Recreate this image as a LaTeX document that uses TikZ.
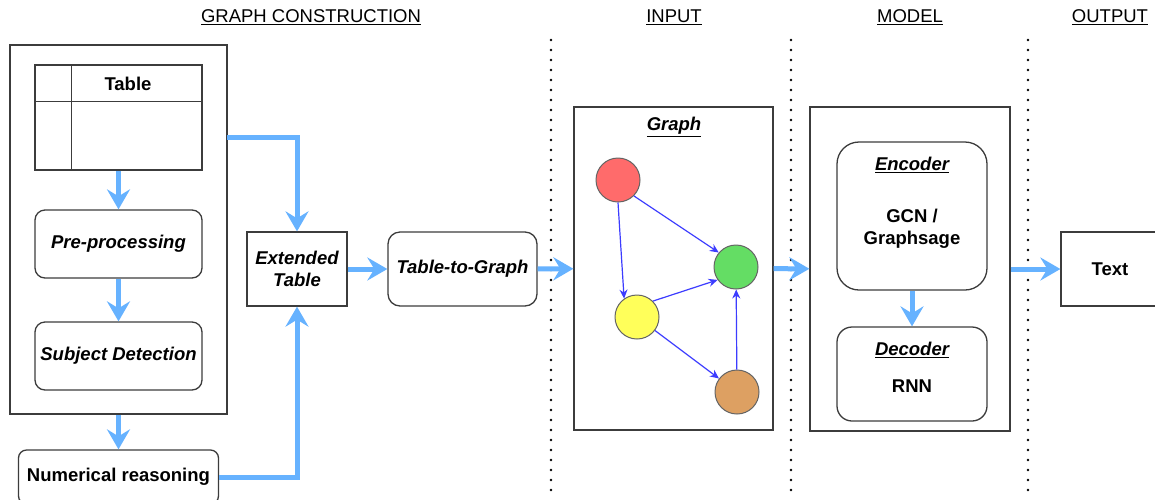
\documentclass[tikz,border=0pt]{standalone}
\usepackage{fontspec}
\setmainfont{Liberation Sans}
\usetikzlibrary{arrows.meta,calc}

\definecolor{flowblue}{RGB}{102,178,255}
\definecolor{linkblue}{RGB}{60,60,255}
\definecolor{boxgray}{RGB}{60,60,60}
\definecolor{vtxgray}{RGB}{100,100,100}
\definecolor{vred}{RGB}{255,107,107}
\definecolor{vgreen}{RGB}{100,221,100}
\definecolor{vyellow}{RGB}{255,255,90}
\definecolor{vbrown}{RGB}{221,160,98}

\newcommand\lblsize{\fontsize{18.5}{22}\selectfont}

\begin{document}
\begin{tikzpicture}[x=1pt,y=-1pt,font=\lblsize,
	blk/.style={draw=boxgray,line width=1.3pt,fill=white,inner sep=0pt,align=center},
	rblk/.style={blk,rounded corners=#1},rblk/.default=10pt,
	bfit/.style={font=\lblsize\bfseries\itshape,align=center},
	bfup/.style={font=\lblsize\bfseries,align=center},
	flow/.style={draw=flowblue,line width=5pt,-{Stealth[length=20pt,width=23pt,inset=7pt]}},
	vtx/.style={circle,draw=vtxgray,line width=1pt,minimum size=44pt,inner sep=0pt},
	link/.style={draw=linkblue,line width=1.2pt,-{Stealth[length=9pt,width=8pt]}},
	divider/.style={line width=2.8pt,line cap=round,dash pattern=on 0pt off 10pt}]
	
	\useasboundingbox[fill=white] (0,0) rectangle (1155,499);
	
	% column titles and separators
	\node (hGC) at (311,17) {\underline{GRAPH CONSTRUCTION}};
	\node (hIn) at (674,17) {\underline{INPUT}};
	\node (hMod) at (910,17) {\underline{MODEL}};
	\node (hOut) at (1110,17) {\underline{OUTPUT}};
	\draw[divider] (551,40) -- (551,499);
	\draw[divider] (791,40) -- (791,499);
	\draw[divider] (1028,40) -- (1028,499);
	
	% graph construction
	\node[blk,minimum width=217pt,minimum height=369pt] (GC) at (118.5,229.5) {};
	\node[blk,minimum width=167pt,minimum height=105pt] (Tab) at (118.5,117.5) {};
	\draw[boxgray,line width=1.3pt] ($(Tab.north west)+(37,0)$) -- ($(Tab.south west)+(37,0)$);
	\draw[boxgray,line width=1.3pt] ($(Tab.north west)+(0,37)$) -- ($(Tab.north east)+(0,37)$);
	\node[bfup] (TabT) at (128,84) {Table};
	\node[rblk,bfit,minimum width=167pt,minimum height=68pt] (Pre) at (118.5,244) {Pre-processing};
	\node[rblk,bfit,minimum width=167pt,minimum height=68pt] (Subj) at (118.5,356) {Subject Detection};
	\node[rblk=8pt,bfup,minimum width=200pt,minimum height=54pt] (Num) at (118.5,477) {Numerical reasoning};
	\node[blk,bfit,minimum width=100pt,minimum height=74pt] (Ext) at (297,269) {Extended\\Table};
	\node[rblk=12pt,bfit,minimum width=149pt,minimum height=74pt] (TtG) at (462.5,269) {Table-to-Graph};
	%
	\coordinate (GCout) at (227,137);
	\draw[flow] (Tab) -- (Pre);
	\draw[flow] (Pre) -- (Subj);
	\draw[flow] (GC) -- (Num);
	\draw[flow] (GCout) -| (Ext);
	\draw[flow] (Num) -| (Ext);
	\draw[flow] (Ext) -- (TtG);
	
	% input graph
	\node[blk,minimum width=199pt,minimum height=323pt] (GraphBox) at (673.5,268.5) {};
	\node[bfit] (GraphT) at (674,127) {\underline{Graph}};
	\node[vtx,fill=vred] (R) at (618,180) {};
	\node[vtx,fill=vgreen] (G) at (736,267) {};
	\node[vtx,fill=vyellow] (Y) at (637,317) {};
	\node[vtx,fill=vbrown] (B) at (737,392) {};
	\draw[link] (R.-45) -- (G.140);
	\draw[link] (R.south) -- (Y.125);
	\draw[link] (Y.45) -- (G.215);
	\draw[link] (Y) -- (B);
	\draw[link] (B) -- (G);
	\draw[flow] (TtG) -- (GraphBox);
	
	% model
	\node[blk,minimum width=200pt,minimum height=324pt] (Model) at (910,269) {};
	\node[rblk=22pt,minimum width=150pt,minimum height=148pt] (Enc) at (912,216) {};
	\node[bfit] (EncT) at (912,165) {\underline{Encoder}};
	\node[bfup] (EncB) at (912,228.5) {GCN /\\Graphsage};
	\node[rblk=15pt,minimum width=150pt,minimum height=94pt] (Dec) at (912,374) {};
	\node[bfit] (DecT) at (912,350) {\underline{Decoder}};
	\node[bfup] (DecB) at (912,386) {RNN};
	\draw[flow] (GraphBox) -- (Model);
	\draw[flow] (Enc) -- (Dec);
	
	% output
	\node[blk,bfup,minimum width=98pt,minimum height=74pt] (Out) at (1110,269) {Text};
	\draw[flow] (Model) -- (Out);
	
\end{tikzpicture}
\end{document}
